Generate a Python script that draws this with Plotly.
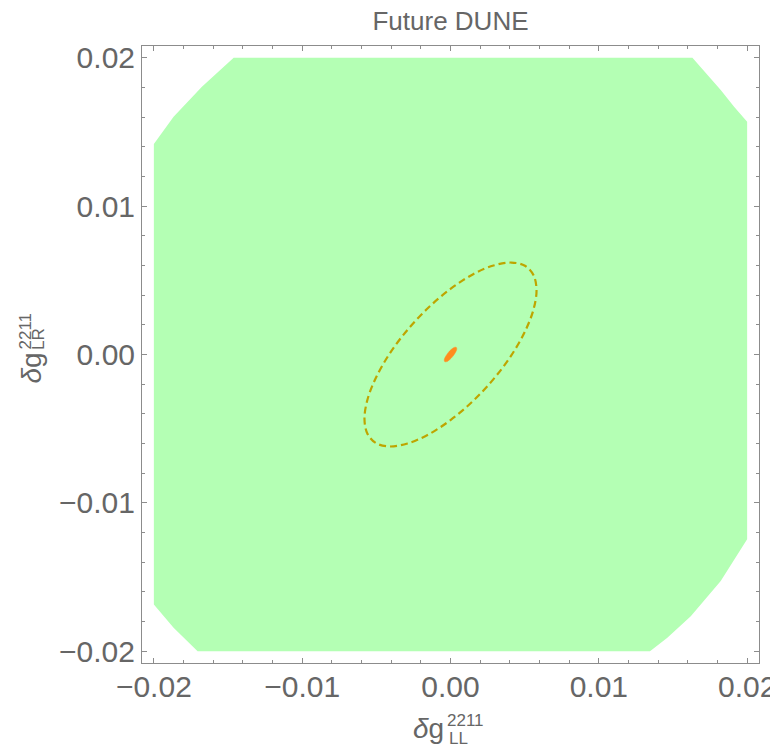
import plotly.graph_objects as go

# ---- data ----
region_x = [-0.0200, -0.01867, -0.01676, -0.01462, 0.01631, 0.01822, 0.01912, 0.0200,
            0.0200, 0.01822, 0.01620, 0.01462, 0.01345, -0.01705, -0.01867, -0.0200]
region_y = [0.01419, 0.01603, 0.01806, 0.0200, 0.0200, 0.01784, 0.01671, 0.01570,
            -0.01245, -0.01527, -0.01764, -0.01910, -0.0200, -0.0200, -0.01843, -0.01685]

ellipse_x = [0.00580, 0.00560, 0.00502, 0.00410, 0.00290, 0.00150, 0.0, -0.00150,
             -0.00290, -0.00410, -0.00502, -0.00560, -0.00580, -0.00560, -0.00502, -0.00410,
             -0.00290, -0.00150, 0.0, 0.00150, 0.00290, 0.00410, 0.00502, 0.00560, 0.00580]
ellipse_y = [0.00435, 0.00534, 0.00598, 0.00620, 0.00600, 0.00540, 0.00442, 0.00315,
             0.00166, 0.00006, -0.00155, -0.00305, -0.00435, -0.00534, -0.00598, -0.00620,
             -0.00600, -0.00540, -0.00442, -0.00315, -0.00166, -0.00006, 0.00155, 0.00305, 0.00435]

blob_x = [0.00039, 0.00026, 0.00006, -0.000155, -0.00033, -0.00042,
          -0.00039, -0.00026, -0.00006, 0.000155, 0.00033, 0.00042, 0.00039]
blob_y = [0.00048, 0.00048, 0.00035, 0.000126, -0.00013, -0.00035,
          -0.00048, -0.00048, -0.00035, -0.000126, 0.00013, 0.00035, 0.00048]

tick_vals = [-0.02, -0.01, 0.0, 0.01, 0.02]
tick_text = ["\u22120.02", "\u22120.01", "0.00", "0.01", "0.02"]

title_text = "Future DUNE"

FONT = "Liberation Sans, Arial, sans-serif"
GRAY = "#666666"
FRAME = "#8c8c8c"

fig = go.Figure()
fig.add_trace(go.Scatter(x=region_x, y=region_y, mode="lines", fill="toself",
                         fillcolor="rgb(180,255,180)", line=dict(width=0),
                         hoverinfo="skip", showlegend=False))
fig.add_trace(go.Scatter(x=ellipse_x, y=ellipse_y, mode="lines",
                         line=dict(color="rgb(190,165,0)", width=2.2, dash="7px,4px", shape="spline"),
                         hoverinfo="skip", showlegend=False))
fig.add_trace(go.Scatter(x=blob_x, y=blob_y, mode="lines", fill="toself",
                         fillcolor="rgb(255,140,30)",
                         line=dict(color="rgb(255,140,30)", width=0.5, shape="spline"),
                         hoverinfo="skip", showlegend=False))

axis_common = dict(
    range=[-0.0208, 0.0208],
    automargin=False,
    tickmode="array", tickvals=tick_vals, ticktext=tick_text,
    ticks="inside", ticklen=5, tickwidth=1, tickcolor=FRAME,
    minor=dict(ticks="inside", ticklen=3, tickwidth=1, tickcolor=FRAME, dtick=0.002, tick0=0),
    showline=True, linecolor=FRAME, linewidth=1, mirror="ticks",
    showgrid=False, zeroline=False,
    tickfont=dict(family=FONT, size=30, color=GRAY),
)

fig.update_xaxes(**axis_common, ticklabelstandoff=-3)
fig.update_yaxes(**axis_common)

# the page body has an 8px margin, so the figure starts at (8, 8) in the window
OFF = 8
W, H = 778 - OFF, 744 - OFF
L, T = 142 - OFF, 46 - OFF
pw = ph = 617
R = W - L - pw
B = H - T - ph


def px_to_paper_x(px):
    return (px - OFF - L) / pw


def px_to_paper_y(py):
    return (OFF + T + ph - py) / ph


annotations = [
    # x axis label
    dict(text="<i>\u03b4</i>g", x=px_to_paper_x(445), y=px_to_paper_y(728), xanchor="right", yanchor="middle",
         font=dict(family=FONT, size=28, color=GRAY)),
    dict(text="2211", x=px_to_paper_x(446), y=px_to_paper_y(720), xanchor="left", yanchor="middle",
         font=dict(family=FONT, size=17, color=GRAY)),
    dict(text="LL", x=px_to_paper_x(448), y=px_to_paper_y(738), xanchor="left", yanchor="middle",
         font=dict(family=FONT, size=17, color=GRAY)),
    # y axis label (rotated)
    dict(text="<i>\u03b4</i>g", x=px_to_paper_x(31), y=px_to_paper_y(385), xanchor="center", yanchor="bottom",
         textangle=-90, font=dict(family=FONT, size=28, color=GRAY)),
    dict(text="2211", x=px_to_paper_x(25), y=px_to_paper_y(351), xanchor="center", yanchor="bottom",
         textangle=-90, font=dict(family=FONT, size=17, color=GRAY)),
    dict(text="LR", x=px_to_paper_x(38), y=px_to_paper_y(351), xanchor="center", yanchor="bottom",
         textangle=-90, font=dict(family=FONT, size=17, color=GRAY)),
]
for a in annotations:
    a.update(xref="paper", yref="paper", showarrow=False, borderpad=0)

fig.update_layout(
    width=W, height=H,
    margin=dict(l=L, r=R, t=T, b=B, pad=0, autoexpand=False),
    plot_bgcolor="white", paper_bgcolor="white",
    title=dict(text=title_text, xref="paper", x=0.5, xanchor="center",
               yref="container", y=1 - (21 - OFF) / H, yanchor="middle",
               font=dict(family=FONT, size=26, color=GRAY)),
    annotations=annotations,
    showlegend=False,
)

fig.write_html("out.html")
